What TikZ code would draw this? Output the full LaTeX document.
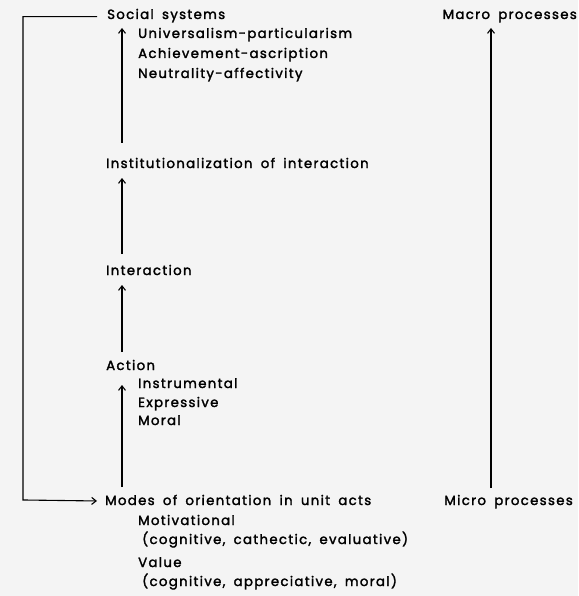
\documentclass[tikz,border=0pt]{standalone}
\usepackage{fontspec}
\newfontfamily\lblfont{Poppins}[LetterSpace=10,WordSpace=1.7,FakeBold=2]
\usetikzlibrary{arrows.meta}
\begin{document}
\begin{tikzpicture}[x=1pt,y=-1pt,
  lbl/.style={anchor=base west,inner sep=0pt,font=\lblfont\fontsize{13.3}{15}\selectfont},
  rlbl/.style={lbl,anchor=base east},
  arr/.style={-{Straight Barb[length=4.5pt,width=7pt]},line width=1.1pt},
  ]
  % page
  \fill[gray!9] (0,0) rectangle (578,596);
  \useasboundingbox (0,0) rectangle (578,596);

  % levels of the hierarchy
  \node[lbl] (soc)  at (107,19)  {Social systems};
  \node[lbl] (u1)   at (138,38)  {Universalism-particularism};
  \node[lbl] (u2)   at (138,58)  {Achievement-ascription};
  \node[lbl] (u3)   at (138,78)  {Neutrality-affectivity};
  \node[lbl] (inst) at (106,168) {Institutionalization of interaction};
  \node[lbl] (inter) at (106,275) {Interaction};
  \node[lbl] (act)  at (106,370) {Action};
  \node[lbl] (a1)   at (138,388) {Instrumental};
  \node[lbl] (a2)   at (138,407) {Expressive};
  \node[lbl] (a3)   at (138,425) {Moral};
  \node[lbl] (modes) at (105,505) {Modes of orientation in unit acts};
  \node[lbl] (m1)   at (138,525) {Motivational};
  \node[lbl] (m2)   at (142,544) {(cognitive, cathectic, evaluative)};
  \node[lbl] (m3)   at (138,567) {Value};
  \node[lbl] (m4)   at (142,586) {(cognitive, appreciative, moral)};

  % scale of processes
  \node[rlbl] (macro) at (577,19)  {Macro processes};
  \node[rlbl] (micro) at (573,505) {Micro processes};

  % guide columns
  \coordinate (ax) at (122,0);
  \coordinate (rx) at (491,0);
  \coordinate (lx) at (23,0);

  % upward arrows between levels
  \draw[arr] (ax |- 0,487) -- (ax |- 0,385);
  \draw[arr] (ax |- 0,352) -- (ax |- 0,285);
  \draw[arr] (ax |- 0,254) -- (ax |- 0,178);
  \draw[arr] (ax |- 0,143) -- (ax |- 0,28);

  % feedback from social systems to unit acts
  \draw[arr] ([xshift=-10pt,yshift=-1pt]soc.west) -| (lx |- modes.west) -- ([xshift=-8pt,yshift=-1pt]modes.west);

  % micro to macro
  \draw[arr] (rx |- 0,488) -- (rx |- 0,28);
\end{tikzpicture}
\end{document}
